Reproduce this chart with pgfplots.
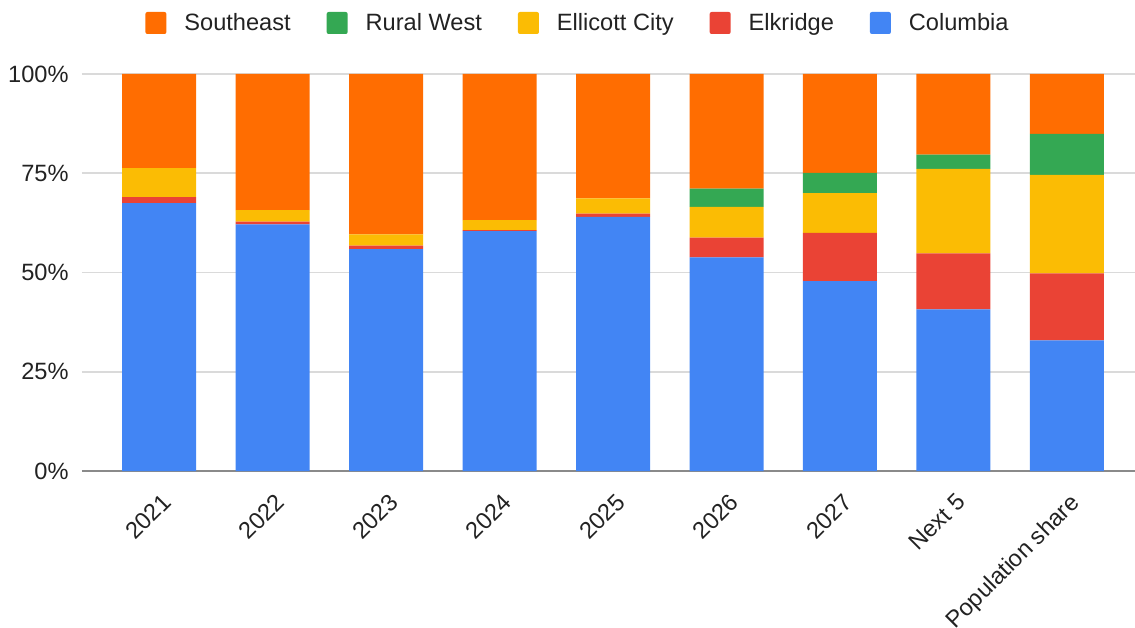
\documentclass[border=0pt]{standalone}
\usepackage{pgfplots}
\pgfplotsset{compat=1.18}
\usepackage{fontspec}
\setmainfont{Liberation Sans}

\definecolor{cColumbia}{HTML}{4285F4}
\definecolor{cElkridge}{HTML}{EA4335}
\definecolor{cEllicott}{HTML}{FBBC04}
\definecolor{cRural}{HTML}{34A853}
\definecolor{cSouth}{HTML}{FF6D01}
\definecolor{gridc}{HTML}{DADADA}
\definecolor{basec}{HTML}{8A8A8A}
\definecolor{txt}{HTML}{222222}

% x: 0..8 = 2021..2027, Next 5, Population share
\pgfplotstableread{
x  columbia elkridge ellicott rural south
0  67.5     1.5      7.3      0     23.7
1  62.1     0.7      2.9      0     34.3
2  55.9     0.9      2.8      0     40.4
3  60.4     0.3      2.5      0     36.8
4  64.0     0.8      3.9      0     31.3
5  53.8     5.0      7.7      4.6   28.9
6  47.8     12.2     10.0     5.1   24.9
7  40.7     14.1     21.3     3.6   20.3
8  32.9     16.9     24.8     10.3  15.1
}\shares

\begin{document}
\begin{tikzpicture}
\begin{axis}[
    name=ax,
    scale only axis,
    width=526.5pt, height=198.5pt,
    ybar stacked,
    bar width=37pt,
    xmin=-0.68, xmax=8.6,
    ymin=0, ymax=100,
    axis line style={draw=none},
    major tick length=0pt,
    xtick=data,
    xticklabels={2021,2022,2023,2024,2025,2026,2027,Next 5,Population share},
    xticklabel style={rotate=45, anchor=north east, inner sep=0pt, xshift=-6.7pt, yshift=-7.9pt},
    ytick={0,25,50,75,100},
    yticklabels={0\%,25\%,50\%,75\%,100\%},
    yticklabel style={inner sep=0pt, xshift=-6.5pt},
    /pgf/number format/assume math mode=true,
    every tick label/.append style={font=\fontsize{11.8}{14}\selectfont, text=txt},
    ymajorgrids,
    grid style={gridc, line width=0.75pt},
    extra y ticks={0},
    extra y tick labels={},
    extra y tick style={grid style={basec, line width=1pt}},
    legend columns=-1,
    reverse legend,
    legend style={draw=none, fill=none, at={(0.472,1)}, anchor=center, yshift=25.5pt,
        font=\fontsize{11.8}{14}\selectfont, text=txt,
        /tikz/every odd column/.append style={column sep=7pt},
        /tikz/every even column/.append style={column sep=16pt}},
    legend image code/.code={\fill[#1, draw=none, rounded corners=1pt] (0pt,-5.5pt) rectangle (10.5pt,5.5pt);},
]
\addplot[fill=cColumbia, draw=none] table[x=x, y=columbia] {\shares};
\addlegendentry{Columbia}
\addplot[fill=cElkridge, draw=none] table[x=x, y=elkridge] {\shares};
\addlegendentry{Elkridge}
\addplot[fill=cEllicott, draw=none] table[x=x, y=ellicott] {\shares};
\addlegendentry{Ellicott City}
\addplot[fill=cRural, draw=none] table[x=x, y=rural] {\shares};
\addlegendentry{Rural West}
\addplot[fill=cSouth, draw=none] table[x=x, y=south] {\shares};
\addlegendentry{Southeast}
\end{axis}
\pgfresetboundingbox
\path[use as bounding box] (-41pt,-78pt) rectangle (526.5pt,235.5pt);
\end{tikzpicture}
\end{document}
